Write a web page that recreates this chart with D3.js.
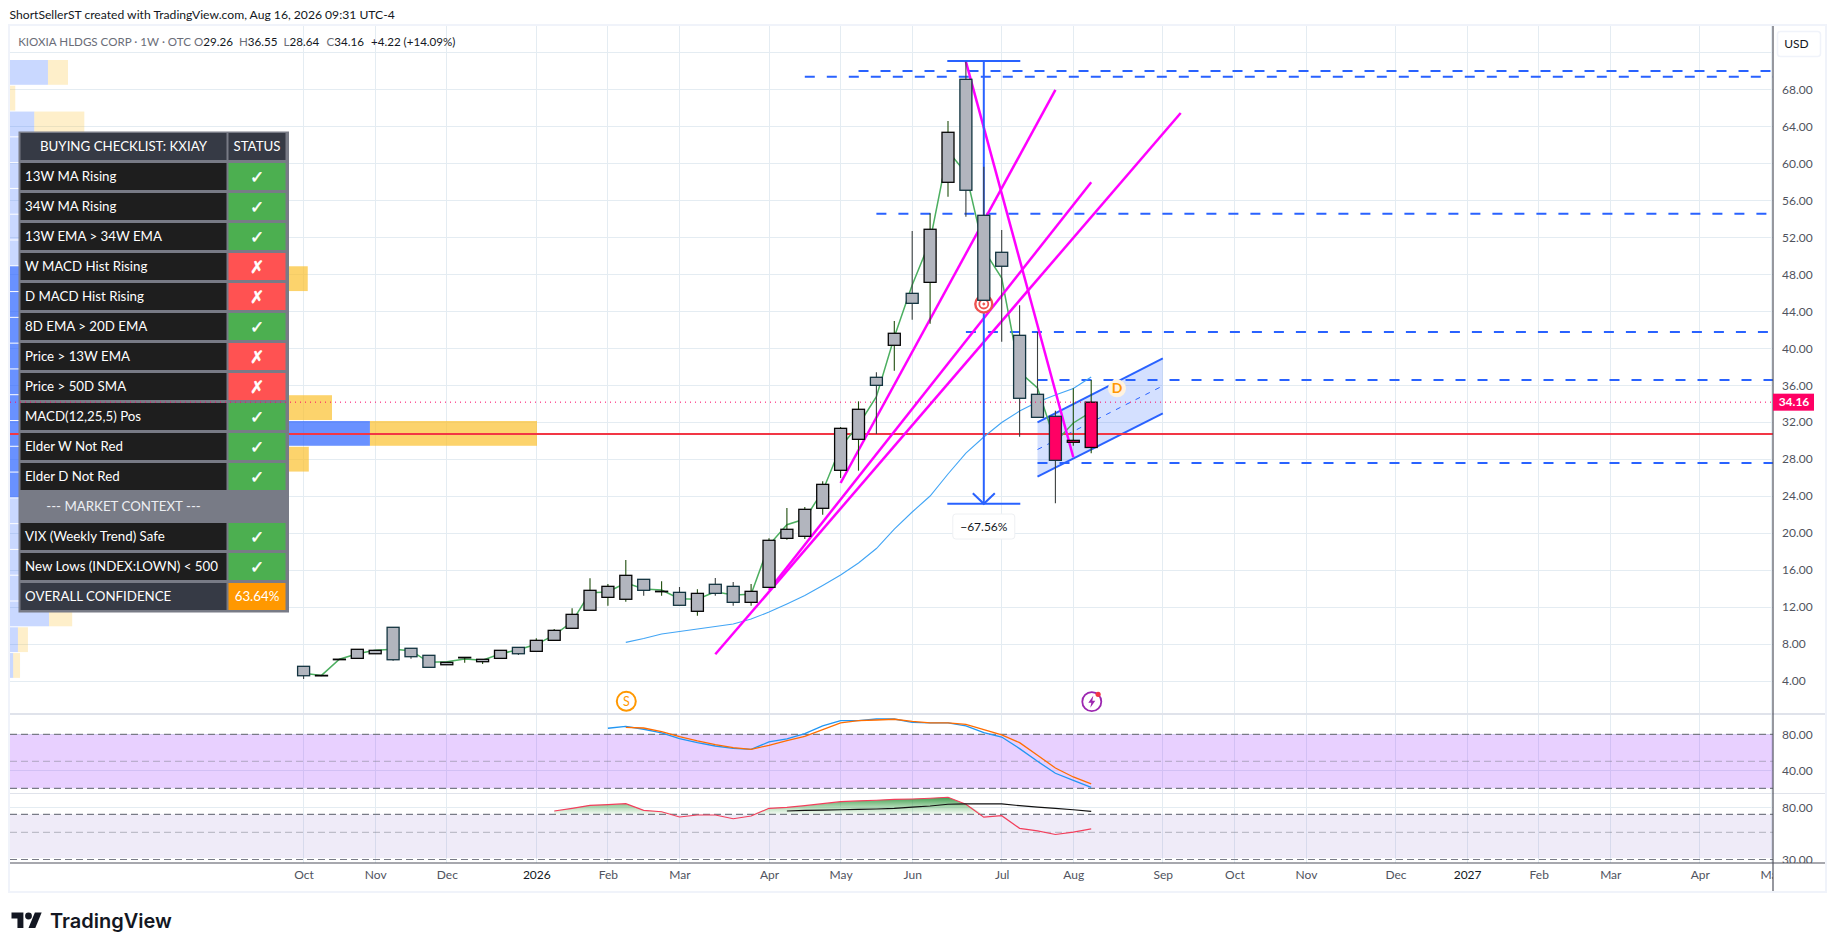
<!DOCTYPE html>
<html>
<head>
<meta charset="utf-8">
<script src="https://cdnjs.cloudflare.com/ajax/libs/d3/7.8.5/d3.min.js"></script>
<style>
	body { margin: 0; background: #fff; }
	text { font-family: Lato, sans-serif; }
</style>
</head>
<body>
<svg id="chart" width="1835" height="951"></svg>
<script>

// weekly candles, week 0 = first week of Oct 2025
const candleOpen = [5.59,4.60,6.35,6.45,6.95,9.81,7.54,6.78,5.76,6.56,6.09,6.45,7.64,7.21,8.40,9.70,11.65,13.05,12.84,15.00,13.70,13.59,11.54,14.46,14.24,12.51,14.13,19.43,19.65,22.68,26.79,30.14,36.85,40.31,45.93,47.12,57.94,69.08,54.37,50.37,41.39,35.01,32.63,29.82,29.26];
const candleHigh = [5.59,4.61,6.36,7.43,7.32,9.81,7.54,6.78,6.02,6.56,6.35,7.32,7.64,8.62,9.62,11.86,15.11,14.49,17.09,15.00,14.78,14.17,13.92,15.14,14.71,14.49,19.43,22.71,22.82,25.60,31.47,34.25,37.39,42.94,52.67,54.59,64.57,70.99,59.63,52.78,44.64,41.75,33.24,35.66,36.55];
const candleLow = [4.21,4.60,6.35,6.45,6.95,6.19,6.41,5.48,5.76,5.98,5.84,6.45,6.81,7.21,8.40,9.70,11.65,12.14,12.58,13.23,13.23,12.19,11.06,13.23,12.14,12.14,14.13,19.28,19.36,21.99,25.96,26.75,30.72,37.56,43.08,42.65,56.38,54.22,45.18,40.70,30.42,32.52,23.22,29.45,28.64];
const candleClose = [4.57,4.61,6.36,7.43,7.32,6.30,6.63,5.48,6.02,6.56,6.35,7.32,6.95,8.40,9.48,11.21,13.81,14.24,15.43,13.81,13.71,12.19,13.48,13.48,12.51,13.70,19.22,20.41,22.57,25.27,31.33,33.39,35.98,41.61,44.85,52.86,63.35,57.08,45.18,48.86,34.58,32.52,27.87,30.03,34.16];
const pinkWeeks = [42,43,44];

const greenLine = [4.83,4.61,6.35,6.95,7.32,7.43,7.28,6.02,6.09,6.38,6.24,6.95,7.38,7.97,8.97,10.41,13.55,13.63,14.63,13.95,13.84,12.90,12.84,13.66,13.30,13.38,18.71,20.91,21.52,24.55,29.31,31.69,34.75,41.21,46.83,51.59,61.33,58.95,50.62,47.59,37.42,35.69,29.85,31.91,33.10];
const blueLineStart = 18;
const blueLine = [8.18,8.60,9.08,9.35,9.62,9.89,10.16,10.70,11.46,12.33,13.25,14.33,15.46,16.76,18.33,20.44,22.28,24.01,26.39,28.66,30.39,31.96,33.20,34.18,34.93,35.64,36.88];

// [start week, end price] dashed levels, all run to the right edge
const levelWeek = [31,28,32,37,41,41];
const levelPrice = [69.98,69.36,54.55,41.75,36.55,27.58];
const redLevel = 30.72;

// [week, price, week, price]
const magentaLines = [[30,25.42,42,67.93],[23,6.89,49,65.44],[26,13.84,44,57.94],[37,71.00,43,28.20]];
const channelWeeks = [41,48];
const channelTop = [31.98,38.90];
const channelBottom = [26.10,32.95];
const measureWeek = 38, measureTop = 71.06, measureBottom = 23.17;

const timeWeeks = [0,4,8,13,17,21,26,30,34,39,43,48,52,56,61,65,69,73,78,82];
const timeLabels = ['Oct','Nov','Dec','2026','Feb','Mar','Apr','May','Jun','Jul','Aug','Sep','Oct','Nov','Dec','2027','Feb','Mar','Apr','May'];
const priceTicks = [4,8,12,16,20,24,28,32,36,40,44,48,52,56,60,64,68];

// volume profile, top bin first
const vpUp = [7.2,0,4.6,12,15,14,16,14,35,25,28,30,32,40,68.3,38,26,18,14,12,10,7.4,1.5,0.6];
const vpDown = [3.8,1.0,9.5,8,9,8,10,9,21.5,15,16,18,17,21.1,31.7,18.7,14,10,8,7,6,4.4,1.9,1.3];
const vpValueArea = [8,16];
const vpBinTop = 71.17, vpBinSize = 2.789;

// middle pane, starts at week 17 / 18
const stochBlueStart = 17;
const stochBlue = [86.7,88.9,85.6,81.5,75.2,70.7,67.0,64.4,63.3,71.5,74.8,80.7,89.3,95.2,95.2,97.0,97.0,93.3,92.6,92.6,89.3,81.9,77.0,64.1,50.0,36.7,28.9,21.1];
const stochOrangeStart = 18;
const stochOrange = [87.8,87.0,83.0,77.4,72.6,68.5,65.2,63.3,67.8,73.0,77.8,85.2,92.6,95.2,95.9,96.7,94.4,92.6,92.6,91.1,85.2,79.3,70.7,56.7,42.6,32.6,24.8];

// bottom pane
const rsiStart = 14;
const rsiLine = [74.6,78.5,83.0,84.0,85.6,75.6,73.6,66.7,69.2,69.2,64.5,67.9,78.5,80.0,82.5,85.6,88.9,90.1,91.3,92.9,93.5,94.8,96.6,84.7,66.4,68.3,53.9,51.4,48.0,50.2,53.4];
const rsiMaStart = 27;
const rsiMa = [74.6,75.6,76.0,76.4,77.0,77.5,78.5,80.4,82.0,84.7,85.2,85.2,85.2,82.5,80.4,78.5,76.4,74.1];

const tableHeader = ['BUYING CHECKLIST: KXIAY','STATUS'];
const tableLabels = ['13W MA Rising','34W MA Rising','13W EMA > 34W EMA','W MACD Hist Rising','D MACD Hist Rising','8D EMA > 20D EMA','Price > 13W EMA','Price > 50D SMA','MACD(12,25,5) Pos','Elder W Not Red','Elder D Not Red','--- MARKET CONTEXT ---','VIX (Weekly Trend) Safe','New Lows (INDEX:LOWN) < 500','OVERALL CONFIDENCE'];
const tableStatus = ['ok','ok','ok','no','no','ok','no','no','ok','ok','ok','','ok','ok','63.64%'];

const legendName = 'KIOXIA HLDGS CORP · 1W · OTC';
const legendValues = [['O','29.26'],['H','36.55'],['L','28.64'],['C','34.16']];
const legendChange = '+4.22 (+14.09%)';
const lastPrice = 34.16;

// layout
const paneLeft = 10, paneRight = 1773, paneTop = 26, mainBottom = 714, midBottom = 793.3, axisY = 863, frameRight = 1825, frameBottom = 891;
const gridColor = '#e4ecf2', blue = '#2962ff', magenta = '#ff00ff', pink = '#ff0064';

const svg = d3.select('#chart');

const x = d3.scaleLinear().domain([0,82]).range([303.6,1771.4]);
const y = d3.scaleLinear().domain([0,68]).range([718,89.3]);
const yMid = d3.scaleLinear().domain([20,80]).range([788.3,734.3]);
const yLow = d3.scaleLog().domain([30,80]).range([859.5,807.3]);

const defs = svg.append('defs');
const addClip = function(id,x0,y0,x1,y1){
	defs.append('clipPath').attr('id',id).append('rect')
		.attr('x',x0).attr('y',y0).attr('width',x1-x0).attr('height',y1-y0);
}
addClip('main-clip',paneLeft,paneTop,paneRight,mainBottom);
// these two sit inside translated axis groups, so local coordinates
addClip('time-clip',paneLeft,0,paneRight,frameBottom-axisY);
addClip('scale-clip',0,paneTop,frameRight-paneRight,axisY);

const hline = function(g,yPos,x0,x1,color,width,dash){
	return g.append('line').attr('x1',x0).attr('x2',x1).attr('y1',yPos).attr('y2',yPos)
		.attr('stroke',color).attr('stroke-width',width).attr('stroke-dasharray',dash||null);
}

// frame + title
svg.append('text').attr('x',9.5).attr('y',19).attr('font-size',12.15).attr('fill','#131722')
	.text('ShortSellerST created with TradingView.com, Aug 16, 2026 09:31 UTC-4');
svg.append('rect').attr('x',paneLeft-1).attr('y',paneTop-1).attr('width',frameRight-paneLeft+2).attr('height',frameBottom-paneTop+2)
	.attr('fill','none').attr('stroke','#f0f3fa').attr('stroke-width',2);

// grid
const grid = svg.append('g').attr('shape-rendering','crispEdges');
grid.selectAll('.v').data(timeWeeks).enter().append('line')
	.attr('x1',d => x(d)).attr('x2',d => x(d)).attr('y1',paneTop).attr('y2',axisY)
	.attr('stroke',gridColor);
grid.selectAll('.h').data(priceTicks.concat([72])).enter().append('line')
	.attr('x1',paneLeft).attr('x2',paneRight).attr('y1',d => y(d)).attr('y2',d => y(d))
	.attr('stroke',gridColor);
hline(grid,yMid(40),paneLeft,paneRight,gridColor,1);
hline(grid,yMid(80),paneLeft,paneRight,gridColor,1);
hline(grid,yLow(80),paneLeft,paneRight,gridColor,1);
hline(grid,mainBottom,paneLeft,frameRight,'#e0e3eb',1.5);
hline(grid,midBottom,paneLeft,frameRight,'#e0e3eb',1.5);

// main pane
const main = svg.append('g').attr('clip-path','url(#main-clip)');

// volume profile
const vpX = d3.scaleLinear().domain([0,100]).range([paneLeft,537]);
const vpW = d3.scaleLinear().domain([0,100]).range([0,527]);
const inValue = i => i >= vpValueArea[0] && i <= vpValueArea[1];
const vp = main.selectAll('.vp').data(vpUp).enter().append('g');
vp.append('rect')
	.attr('x',paneLeft)
	.attr('y',(d,i) => y(vpBinTop - i*vpBinSize))
	.attr('width',d => vpW(d))
	.attr('height',y(0) - y(vpBinSize) - 1)
	.attr('fill',(d,i) => inValue(i) ? 'rgba(41,98,255,0.7)' : 'rgba(41,98,255,0.25)');
vp.append('rect')
	.attr('x',d => vpX(d))
	.attr('y',(d,i) => y(vpBinTop - i*vpBinSize))
	.attr('width',(d,i) => vpW(vpDown[i]))
	.attr('height',y(0) - y(vpBinSize) - 1)
	.attr('fill',(d,i) => inValue(i) ? 'rgba(251,192,45,0.7)' : 'rgba(251,192,45,0.25)');

// channel
const cx0 = x(channelWeeks[0]), cx1 = x(channelWeeks[1]);
main.append('path')
	.attr('d',`M${cx0},${y(channelTop[0])}L${cx1},${y(channelTop[1])}L${cx1},${y(channelBottom[1])}L${cx0},${y(channelBottom[0])}Z`)
	.attr('fill','rgba(41,98,255,0.2)');
main.selectAll('.chan').data([channelTop,channelBottom]).enter().append('line')
	.attr('x1',cx0).attr('x2',cx1).attr('y1',d => y(d[0])).attr('y2',d => y(d[1]))
	.attr('stroke',blue).attr('stroke-width',2);
main.append('line')
	.attr('x1',cx0).attr('x2',cx1)
	.attr('y1',y((channelTop[0]+channelBottom[0])/2)).attr('y2',y((channelTop[1]+channelBottom[1])/2))
	.attr('stroke',blue).attr('stroke-width',1).attr('stroke-dasharray','5,6');

// levels
main.selectAll('.level').data(levelPrice).enter().append('line')
	.attr('x1',(d,i) => x(levelWeek[i])).attr('x2',paneRight)
	.attr('y1',d => y(d)).attr('y2',d => y(d))
	.attr('stroke',blue).attr('stroke-width',2).attr('stroke-dasharray','10,12');
hline(main,Math.round(y(redLevel)),paneLeft,paneRight,'#f23645',2.2);

// moving averages
const weekLine = start => d3.line().x((d,i) => x(i+start)).y(d => y(d));
main.append('path').attr('d',weekLine(blueLineStart)(blueLine))
	.attr('fill','none').attr('stroke','#42a5f5').attr('stroke-width',1.1);
main.append('path').attr('d',weekLine(0)(greenLine))
	.attr('fill','none').attr('stroke','#4caf60').attr('stroke-width',1.5);

// trend lines
main.selectAll('.trend').data(magentaLines).enter().append('line')
	.attr('x1',d => x(d[0])).attr('y1',d => y(d[1])).attr('x2',d => x(d[2])).attr('y2',d => y(d[3]))
	.attr('stroke',magenta).attr('stroke-width',2.5);

// price range measure
const mx = x(measureWeek), capW = 36.5, yBot = y(measureBottom);
main.append('line').attr('x1',mx).attr('x2',mx).attr('y1',y(measureTop)).attr('y2',yBot).attr('stroke',blue).attr('stroke-width',2);
hline(main,y(measureTop),mx-capW,mx+capW,blue,2);
hline(main,yBot,mx-capW,mx+capW,blue,2);
main.append('path').attr('d',`M${mx-11},${yBot-10.5}L${mx},${yBot}L${mx+11},${yBot-10.5}`)
	.attr('fill','none').attr('stroke',blue).attr('stroke-width',2);

// bullseye under week 38
const eye = main.append('g').attr('transform',`translate(${mx},304)`).attr('fill','none').attr('stroke','#ef5350');
eye.append('circle').attr('r',8.5).attr('fill','#fff').attr('stroke-width',2.4);
eye.append('circle').attr('r',4.5).attr('stroke-width',1.8);
eye.append('circle').attr('r',1).attr('fill','#ef5350');

// candles
const candleW = 12;
const isUp = i => candleClose[i] >= candleOpen[i];
const candles = main.selectAll('.candle').data(candleOpen).enter().append('g').attr('class','candle');
candles.append('line')
	.attr('x1',(d,i) => x(i)).attr('x2',(d,i) => x(i))
	.attr('y1',(d,i) => y(candleHigh[i])).attr('y2',(d,i) => y(candleLow[i]))
	.attr('stroke',(d,i) => isUp(i) ? '#1e4d0c' : '#3b4040').attr('stroke-width',1.1);
candles.append('rect')
	.attr('x',(d,i) => x(i)-candleW/2)
	.attr('y',(d,i) => y(Math.max(d,candleClose[i])))
	.attr('width',candleW)
	.attr('height',(d,i) => Math.max(0.5,Math.abs(y(d)-y(candleClose[i]))))
	.attr('fill',(d,i) => pinkWeeks.includes(i) ? pink : '#b2b5be')
	.attr('stroke',(d,i) => isUp(i) ? '#060606' : '#12333f').attr('stroke-width',1.3);

// D badge
const dBadge = main.append('g').attr('transform','translate(1117,388.3)');
dBadge.append('circle').attr('r',9).attr('fill','#fff3e0');
dBadge.append('text').attr('text-anchor','middle').attr('dy','.36em').attr('font-size',14).attr('font-weight',700).attr('fill','#ff9800').text('D');

// measure label
const tag = svg.append('g').attr('transform',`translate(${mx},526.5)`);
tag.append('rect').attr('x',-31).attr('y',-12.5).attr('width',62).attr('height',25).attr('rx',3)
	.attr('fill','#fff').attr('stroke','#eef0f3').attr('stroke-width',1);
tag.append('text').attr('text-anchor','middle').attr('dy','.35em').attr('font-size',12).attr('fill','#131722').text('−67.56%');

// event icons
const sIcon = svg.append('g').attr('transform','translate(626.3,701.3)');
sIcon.append('circle').attr('r',9.5).attr('fill','#fff').attr('stroke','#ff9800').attr('stroke-width',2);
sIcon.append('text').attr('text-anchor','middle').attr('dy','.36em').attr('font-size',12.5).attr('fill','#ff9800').text('S');
const boltIcon = svg.append('g').attr('transform','translate(1091.8,701.7)');
boltIcon.append('circle').attr('r',9.5).attr('fill','#fff').attr('stroke','#9c27b0').attr('stroke-width',1.8);
boltIcon.append('path').attr('d','M1.5,-6L-3.5,1L-0.5,1L-1.5,6L3.5,-1L0.5,-1Z').attr('fill','#9c27b0');
boltIcon.append('circle').attr('cx',6.3).attr('cy',-7.4).attr('r',2.6).attr('fill','#f23645');

// middle pane
const mid = svg.append('g');
mid.append('rect').attr('x',paneLeft).attr('width',paneRight-paneLeft)
	.attr('y',yMid(80)).attr('height',yMid(20)-yMid(80)).attr('fill','rgba(140,20,255,0.2)');
hline(mid,yMid(80),paneLeft,paneRight,'#787b86',1.2,'7,4');
hline(mid,yMid(50),paneLeft,paneRight,'rgba(120,123,134,0.5)',1,'7,4');
hline(mid,yMid(20),paneLeft,paneRight,'#787b86',1.2,'7,4');
const midLine = start => d3.line().x((d,i) => x(i+start)).y(d => yMid(d));
mid.append('path').attr('d',midLine(stochBlueStart)(stochBlue)).attr('fill','none').attr('stroke','#2196f3').attr('stroke-width',1.3);
mid.append('path').attr('d',midLine(stochOrangeStart)(stochOrange)).attr('fill','none').attr('stroke','#ff6d00').attr('stroke-width',1.3);

// bottom pane
const low = svg.append('g');
low.append('rect').attr('x',paneLeft).attr('width',paneRight-paneLeft)
	.attr('y',yLow(70)).attr('height',yLow(30)-yLow(70)-1.5).attr('fill','rgba(126,87,194,0.12)');
hline(low,yLow(70),paneLeft,paneRight,'#787b86',1.2,'7,4');
hline(low,yLow(50),paneLeft,paneRight,'rgba(120,123,134,0.5)',1,'7,4');
hline(low,yLow(30),paneLeft,paneRight,'#787b86',1.2,'7,4');

const rsiGrad = defs.append('linearGradient').attr('id','rsi-grad').attr('gradientUnits','userSpaceOnUse')
	.attr('x1',0).attr('x2',0).attr('y1',yLow(96.6)).attr('y2',yLow(70));
rsiGrad.append('stop').attr('offset',0).attr('stop-color','#1b8a2e').attr('stop-opacity',0.85);
rsiGrad.append('stop').attr('offset',1).attr('stop-color','#4caf50').attr('stop-opacity',0.05);
low.append('path')
	.attr('d',d3.area().x((d,i) => x(i+rsiStart)).y0(yLow(70)).y1(d => yLow(Math.max(d,70)))(rsiLine))
	.attr('fill','url(#rsi-grad)');
const lowLine = start => d3.line().x((d,i) => x(i+start)).y(d => yLow(d));
low.append('path').attr('d',lowLine(rsiStart)(rsiLine)).attr('fill','none').attr('stroke','#f23f5c').attr('stroke-width',1.2);
low.append('path').attr('d',lowLine(rsiMaStart)(rsiMa)).attr('fill','none').attr('stroke','#111').attr('stroke-width',1.2);

// axes
const styleAxis = function(g){
	g.select('.domain').remove();
	g.selectAll('.tick line').remove();
	g.selectAll('.tick text').attr('font-size',12).attr('font-family','Lato, sans-serif').attr('fill','#50535e');
}
svg.append('g').attr('transform',`translate(${paneRight},0)`)
	.call(d3.axisRight(y).tickValues(priceTicks).tickFormat(d => d.toFixed(2)).tickSize(0).tickPadding(9))
	.call(styleAxis);
svg.append('g').attr('transform',`translate(${paneRight},0)`)
	.call(d3.axisRight(yMid).tickValues([40,80]).tickFormat(d => d.toFixed(2)).tickSize(0).tickPadding(9))
	.call(styleAxis);
svg.append('g').attr('transform',`translate(${paneRight},0)`).attr('clip-path','url(#scale-clip)')
	.call(d3.axisRight(yLow).tickValues([30,80]).tickFormat(d => d.toFixed(2)).tickSize(0).tickPadding(9))
	.call(styleAxis);
svg.append('g').attr('transform',`translate(0,${axisY})`).attr('clip-path','url(#time-clip)')
	.call(d3.axisBottom(x).tickValues(timeWeeks).tickFormat(d => timeLabels[timeWeeks.indexOf(d)]).tickSize(0).tickPadding(7))
	.call(styleAxis)
	.call(g => g.selectAll('.tick text').filter(d => d===13 || d===65).attr('fill','#131722'));

svg.append('line').attr('x1',paneRight).attr('x2',paneRight).attr('y1',paneTop).attr('y2',frameBottom).attr('stroke','#50535e').attr('stroke-width',1.2);
hline(svg,axisY,paneLeft,frameRight,'#50535e',1.2);

// USD button + last price
svg.append('rect').attr('x',1777.5).attr('y',31.5).attr('width',43).attr('height',25).attr('rx',3)
	.attr('fill','#fff').attr('stroke','#f0f3fa').attr('stroke-width',1.5);
svg.append('text').attr('x',1796.5).attr('y',44).attr('dy','.35em').attr('text-anchor','middle').attr('font-size',12).attr('fill','#131722').text('USD');

// table
const tableX = 18.5, rowH = 30, tableY = 131.5, col1 = 209, col2 = 60;
const table = svg.append('g').attr('transform',`translate(${tableX},${tableY})`);
table.append('rect').attr('width',col1+col2+1.5).attr('height',rowH*16+1).attr('fill','#787b86');
const cellText = function(g,tx,ty,txt,anchor,color,size){
	return g.append('text').attr('x',tx).attr('y',ty).attr('dy','.36em').attr('text-anchor',anchor)
		.attr('font-size',size||13.3).attr('fill',color).text(txt);
}
const headerRow = table.append('g');
headerRow.append('rect').attr('x',2).attr('y',1.5).attr('width',col1-3).attr('height',rowH-3).attr('fill','#363a45');
headerRow.append('rect').attr('x',col1+1).attr('y',1.5).attr('width',col2-3).attr('height',rowH-3).attr('fill','#363a45');
cellText(headerRow,2+(col1-3)/2,rowH/2,tableHeader[0],'middle','#fff');
cellText(headerRow,col1+1+(col2-3)/2,rowH/2,tableHeader[1],'middle','#fff');

tableLabels.forEach(function(label,i){
	const ry = (i+1)*rowH;
	const status = tableStatus[i];
	const row = table.append('g').attr('transform',`translate(0,${ry})`);
	if(status === ''){
		cellText(row,2+(col1-3)/2,rowH/2,label,'middle','#eceef2');
		return;
	}
	const isLast = i === tableLabels.length-1;
	const statusFill = status==='ok' ? '#4caf50' : status==='no' ? '#ff5252' : '#ff9800';
	row.append('rect').attr('x',2).attr('y',1.5).attr('width',col1-3).attr('height',rowH-3).attr('fill',isLast ? '#363a45' : '#1e1e1e');
	row.append('rect').attr('x',col1+1).attr('y',1.5).attr('width',col2-3).attr('height',rowH-3).attr('fill',statusFill);
	cellText(row,6.5,rowH/2,label,'start','#fff');
	const glyph = status==='ok' ? '✓' : status==='no' ? '✗' : status;
	const t = cellText(row,col1+1+(col2-3)/2,rowH/2,glyph,'middle','#fff',status.length>2 ? 13.3 : 17);
	if(status.length<=2) t.style('font-family','"DejaVu Sans"').attr('font-weight',700).attr('stroke','#fff').attr('stroke-width',0.5);
});

// price line + tag stay above the table
hline(svg,y(lastPrice),paneLeft,paneRight,pink,1,'1,4');
svg.append('rect').attr('x',paneRight).attr('y',y(lastPrice)-8.5).attr('width',41).attr('height',17).attr('fill',pink);
svg.append('text').attr('x',paneRight+21).attr('y',y(lastPrice)).attr('dy','.36em').attr('text-anchor','middle')
	.attr('font-size',12).attr('font-weight',700).attr('fill','#fff').text(lastPrice.toFixed(2));

// legend
const legend = svg.append('g').attr('font-size',11.6);
legend.append('text').attr('x',18.2).attr('y',46).attr('fill','#6a6d78').text(legendName);
const legendX = [194,239,283.5,326.6];
legendValues.forEach(function(v,i){
	const t = legend.append('text').attr('x',legendX[i]).attr('y',46).attr('fill','#131722');
	t.append('tspan').attr('fill','#6a6d78').text(v[0]);
	t.append('tspan').text(v[1]);
});
legend.append('text').attr('x',371).attr('y',46).attr('fill','#131722').text(legendChange);

// logo
const logo = svg.append('g').attr('transform','translate(11.5,907.5) scale(0.85)').attr('fill','#131722');
logo.append('path').attr('d','M14 6H0v7h7v11h7V6Z');
logo.append('circle').attr('cx',20).attr('cy',10).attr('r',4);
logo.append('path').attr('d','M28 24h-8L27.5 6h8L28 24Z');
svg.append('text').attr('x',50).attr('y',928).attr('font-size',20).attr('font-weight',600)
	.style('font-family','Inter, sans-serif').attr('fill','#131722').text('TradingView');

</script>
</body>
</html>
